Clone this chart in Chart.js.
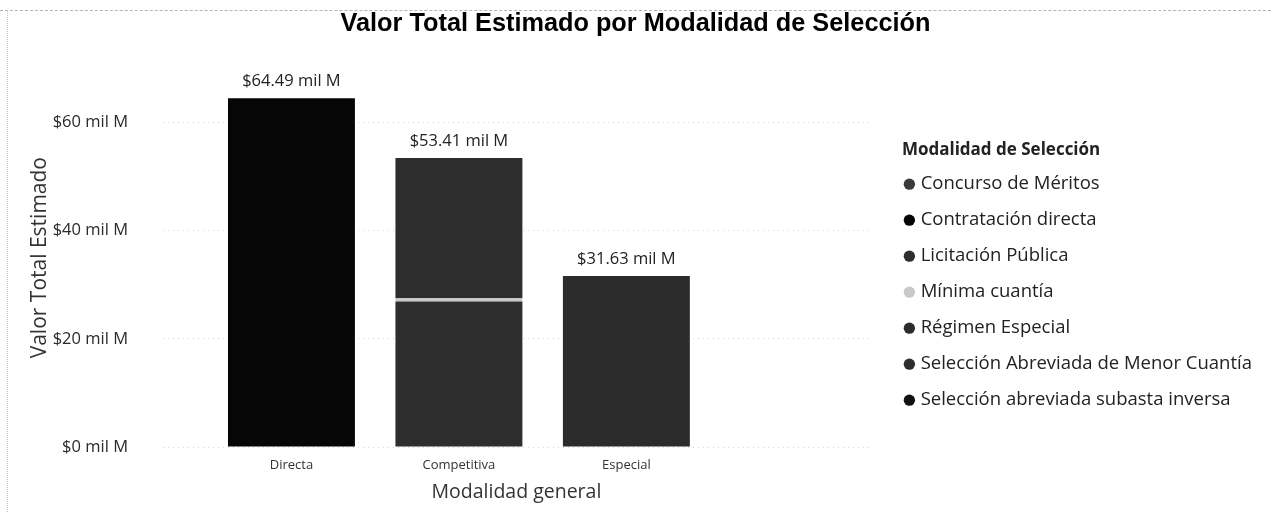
<!DOCTYPE html>
<html>
<head>
<meta charset="utf-8">
<title>Valor Total Estimado por Modalidad de Selección</title>
<script src="https://cdn.jsdelivr.net/npm/chart.js@4.4.1/dist/chart.umd.min.js"></script>
<style>
  html, body { margin: 0; padding: 0; background: #fff; }
  #wrap { position: relative; width: 1271px; height: 512px; }
  #scanTop { position: absolute; left: 0; right: 0; top: 10px; border-top: 1px dashed #b4b4b4; }
  #scanLeft { position: absolute; left: 7px; top: 10px; bottom: 0; border-left: 1px dotted #c4c4c4; }
</style>
</head>
<body>
<div id="wrap">
  <canvas id="myBarChart"></canvas>
  <div id="scanTop"></div>
  <div id="scanLeft"></div>
</div>
<script>
// categories on the x axis
var categories = ['Directa', 'Competitiva', 'Especial'];

// one array per "Modalidad de Selección" (values in mil M)
var concursoMeritos = [null, null, null];
var contratacionDirecta = [64.49, null, null];
var licitacionPublica = [null, 26.9, null];
var minimaCuantia = [null, 0.6, null];
var regimenEspecial = [null, null, 31.63];
var abreviadaMenorCuantia = [null, 25.91, null];
var subastaInversa = [null, null, null];

var modalidades = ['Concurso de Méritos', 'Contratación directa', 'Licitación Pública', 'Mínima cuantía',
  'Régimen Especial', 'Selección Abreviada de Menor Cuantía', 'Selección abreviada subasta inversa'];
var series = [concursoMeritos, contratacionDirecta, licitacionPublica, minimaCuantia,
  regimenEspecial, abreviadaMenorCuantia, subastaInversa];

var yTicks = [0, 20, 40, 60];

var colors = ['#3a3a3a', '#060606', '#2e2e2e', '#c9c9c9', '#2c2c2c', '#2d2d2d', '#111111'];

var totals = categories.map(function (c, i) {
  return series.reduce(function (sum, s) { return sum + (s[i] || 0); }, 0);
});

function money(v) {
  return '$' + v + ' mil M';
}

var fontFamily = "'Open Sans', 'Noto Sans', sans-serif";
Chart.defaults.font.family = fontFamily;
Chart.defaults.color = '#2a2a2a';

// total labels above each stacked column
var totalLabels = {
  id: 'totalLabels',
  afterDatasetsDraw: function (chart) {
    var ctx = chart.ctx;
    var x = chart.scales.x;
    var y = chart.scales.y;
    ctx.save();
    ctx.font = '16.5px ' + fontFamily;
    ctx.fillStyle = '#222';
    ctx.textAlign = 'center';
    ctx.textBaseline = 'middle';
    totals.forEach(function (t, i) {
      ctx.fillText(money(t.toFixed(2)), x.getPixelForValue(i), y.getPixelForValue(t) - 17);
    });
    ctx.restore();
  }
};

// leave a gap between plot and legend, pull the items left, title a bit right
var legendGap = 29;
var legendShift = 9;
var titleShift = 12;
var legendIndent = {
  id: 'legendIndent',
  afterInit: function (chart) {
    var legend = chart.legend;
    var fit = legend.fit;
    legend.fit = function () {
      fit.call(this);
      this.width += legendGap;
    };
    var name = legend.drawTitle ? 'drawTitle' : '_drawTitle';
    var drawTitle = legend[name];
    legend[name] = function () {
      this.left += titleShift;
      drawTitle.call(this);
      this.left -= titleShift;
    };
  },
  afterLayout: function (chart) {
    chart.legend.left += legendGap - legendShift;
  }
};

var ctx = document.getElementById('myBarChart').getContext('2d');
var myChart = new Chart(ctx, {
  type: 'bar',
  data: {
    datasets: series.map(function (s, k) {
      return {
        label: modalidades[k],
        data: s.map(function (v, i) { return { x: i, y: v }; })
               .filter(function (p) { return p.y !== null; }),
        backgroundColor: colors[k],
        borderWidth: 0,
        barPercentage: 0.758,
        categoryPercentage: 1
      };
    })
  },
  options: {
    responsive: true,
    maintainAspectRatio: false,
    animation: false,
    scales: {
      x: {
        type: 'linear',
        stacked: true,
        offset: false,
        min: -0.767,
        max: 3.454,
        afterBuildTicks: function (axis) {
          axis.ticks = categories.map(function (c, i) { return { value: i }; });
        },
        afterFit: function (axis) { axis.height = 65; },
        grid: { display: false, drawTicks: false },
        border: { display: false },
        ticks: {
          autoSkip: false,
          maxRotation: 0,
          padding: 10,
          font: { size: 13 },
          color: '#333',
          callback: function (v) { return categories[v]; }
        },
        title: {
          display: true,
          text: 'Modalidad general',
          font: { size: 19.5 },
          color: '#333',
          padding: { top: 0, bottom: 8 }
        }
      },
      y: {
        stacked: true,
        min: 0,
        max: 70,
        afterBuildTicks: function (axis) {
          axis.ticks = yTicks.map(function (v) { return { value: v }; });
        },
        afterFit: function (axis) { axis.width = 163; },
        grid: { color: '#d2d2d2', drawTicks: false },
        border: { display: false, dash: [1, 4] },
        ticks: {
          padding: 35,
          font: { size: 16.5 },
          color: '#2a2a2a',
          callback: function (v) { return money(v); }
        },
        title: {
          display: true,
          text: 'Valor Total Estimado',
          font: { size: 21 },
          color: '#333',
          padding: { top: 27, bottom: 2 }
        }
      }
    },
    plugins: {
      title: {
        display: true,
        text: 'Valor Total Estimado por Modalidad de Selección',
        font: { family: "'Liberation Sans', Arial, sans-serif", size: 25.3, weight: 'bold' },
        color: '#000',
        padding: { top: 9, bottom: 29 }
      },
      legend: {
        position: 'right',
        align: 'start',
        maxWidth: 460,
        title: {
          display: true,
          text: 'Modalidad de Selección',
          position: 'start',
          font: { size: 17, weight: 'bold' },
          color: '#222',
          padding: { top: 142, bottom: -5 }
        },
        labels: {
          usePointStyle: true,
          pointStyle: 'circle',
          boxWidth: 4,
          boxHeight: 8,
          padding: 17.5,
          font: { size: 18.5 },
          color: '#222'
        }
      },
      tooltip: { enabled: false }
    }
  },
  plugins: [totalLabels, legendIndent]
});
</script>
</body>
</html>
